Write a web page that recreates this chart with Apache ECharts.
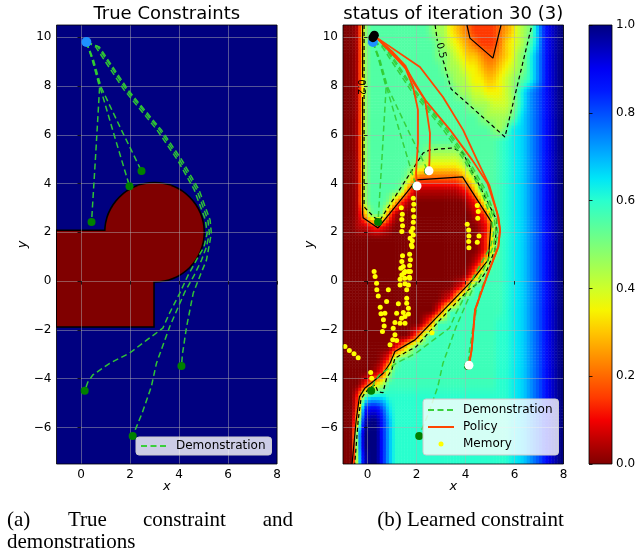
<!DOCTYPE html>
<html><head><meta charset="utf-8">
<script src="https://cdn.jsdelivr.net/npm/echarts@6/dist/echarts.min.js"></script>
<style>html,body{margin:0;padding:0;background:#fff;}#c{width:640px;height:553px;}</style>
</head><body><div id="c"></div>
<script>
// ---------------- data ----------------
const xTicks = [0, 2, 4, 6, 8];
const yTicks = [-6, -4, -2, 0, 2, 4, 6, 8, 10];
const cbTicks = [0, 0.2, 0.4, 0.6, 0.8, 1.0];

// true constraint (left panel): rectangle [x0,y0,x1,y1] and circle [cx,cy,r]
const trueRect = [-1, -1.85, 2.95, 2.05];
const trueCircle = [3.0, 2.0, 2.0];

// demonstrations
const demo1 = [[0.22,9.8],[0.45,9.1],[0.76,7.95],[0.6,5.2],[0.43,2.42]];
const demo2 = [[0.22,9.8],[0.47,9.1],[0.78,7.95],[1.35,6.0],[1.98,3.89]];
const demo3 = [[0.22,9.8],[0.5,9.1],[0.82,7.95],[1.6,6.3],[2.47,4.51]];
const demo4 = [[0.22,9.8],[0.6,9.6],[1.75,7.85],[3.1,6.2],[3.95,4.95],[4.62,3.75],[5.08,2.5],[5.15,1.96],[5.02,1.4],[4.71,0.86],[4.35,0.2],[4.03,-0.5],[3.62,-1.3],[3.34,-1.93],[2.68,-2.42],[1.99,-2.95],[1.17,-3.37],[0.48,-3.85],[0.28,-4.14],[0.15,-4.5]];
const demo5 = [[0.22,9.8],[0.68,9.62],[1.86,7.83],[3.21,6.19],[4.03,4.96],[4.73,3.73],[5.18,2.5],[5.24,1.96],[5.12,1.4],[4.92,0.86],[4.6,0.2],[4.24,-0.44],[3.62,-1.87],[3.08,-3.37],[2.87,-4.33],[2.5,-5.4],[2.11,-6.35]];
const demo6 = [[0.22,9.8],[0.75,9.6],[1.95,7.8],[3.3,6.17],[4.12,4.96],[4.82,3.73],[5.27,2.5],[5.32,1.96],[5.22,1.4],[5.12,0.86],[4.85,0.2],[4.58,-0.5],[4.31,-1.87],[4.14,-3.0],[4.1,-3.48]];
const demoStart = [[0.22,9.8]];
const demoEnds = [[0.43,2.42],[1.98,3.89],[2.47,4.51],[0.15,-4.5],[2.11,-6.35],[4.1,-3.48]];

// policy roll-outs
const policy1 = [[0.28,10.0],[0.39,9.96],[1.0,9.4],[1.53,8.78],[1.86,7.96],[2.06,7.02],[2.06,5.66],[1.98,4.43],[2.02,3.9]];
const policy2 = [[0.28,10.0],[0.39,9.96],[1.0,9.42],[1.55,8.82],[1.9,8.1],[2.35,7.43],[2.55,6.07],[2.53,4.97],[2.51,4.52]];
const policy3 = [[0.28,10.0],[0.39,9.96],[1.61,8.66],[2.35,7.43],[3.37,6.2],[4.27,4.97],[4.9,4.0],[5.29,2.8],[5.41,2.1],[5.34,1.41],[4.87,0.18],[4.39,-1.18],[4.25,-2.82],[4.14,-3.45]];
const policy4 = [[0.28,10.0],[0.51,9.89],[2.14,8.78],[3.08,7.55],[3.9,6.2],[4.47,4.97],[4.98,3.9],[5.35,2.6],[5.41,2.1],[5.34,1.41],[4.87,0.18],[4.39,-1.18],[4.25,-2.82],[4.14,-3.45]];
const policyStart = [[0.22,9.98],[0.28,10.08]];
const policyEnds = [[2.02,3.9],[2.51,4.52],[4.14,-3.45]];

// memory
const memory = [
 [1.38,3.01],[1.42,2.74],[1.40,2.52],[1.43,2.27],[1.40,2.03],
 [1.87,3.40],[1.89,3.15],[1.87,2.91],[1.89,2.64],[1.87,2.41],[1.85,2.17],[1.87,1.89],[1.83,1.65],[1.82,1.41],
 [1.78,2.03],[1.74,1.76],[1.79,1.48],[1.72,1.10],[1.75,0.87],[1.72,0.64],[1.75,0.39],[1.72,0.12],
 [1.43,1.04],[1.40,0.80],[1.46,0.60],[1.36,0.53],[1.49,0.33],[1.40,0.25],[1.52,0.12],
 [1.53,0.39],[1.67,0.39],[1.33,0.08],[1.71,0.16],[1.33,-0.16],[1.53,-0.11],[1.67,-0.16],[1.60,-0.36],
 [4.48,3.10],[4.52,2.85],[4.50,2.58],[4.07,2.33],[4.13,2.09],[4.14,1.85],[4.13,1.62],[4.14,1.37],[4.55,1.85],[4.48,1.59],
 [0.27,0.39],[0.31,0.19],[0.37,-0.09],[0.38,-0.36],[0.44,-0.61],[0.52,-1.07],[0.55,-1.34],[0.65,-1.59],[0.68,-1.84],[0.61,-2.07],
 [0.71,-1.32],[0.85,-0.36],[0.78,-0.84],
 [1.26,-0.93],[1.60,-0.91],[1.19,-1.32],[1.46,-1.29],[1.67,-1.11],[1.12,-1.70],[1.39,-1.52],[1.53,-1.45],[1.05,-1.93],[1.33,-1.73],[1.53,-1.73],[1.12,-2.20],[1.03,-2.41],[1.19,-2.44],[0.92,-2.61],[1.67,-1.35],[1.60,-0.70],
 [-0.92,-2.68],[-0.74,-2.85],[-0.55,-2.98],[-0.38,-3.14],
 [0.13,-3.75],[0.17,-3.98],
 [2.63,-2.12]
];

// learned constraint contours
const contour02a = [[4.06,10.5],[4.18,9.96],[5.12,9.14],[5.45,10.5]];
const contour02b = [[-0.2,10.5],[-0.2,8.35]];
const contour02c = [[-0.2,7.55],[-0.2,2.75],[-0.18,2.6],[0.43,2.18],[2.02,4.15],[3.88,4.27],[5.05,2.44],[4.93,0.87],[4.2,-0.05],[1.94,-2.41],[1.12,-2.89],[0.92,-3.37],[0.65,-3.77],[0.22,-4.13],[-0.1,-4.38],[-0.33,-4.75],[-0.46,-5.69],[-0.63,-7.5]];
const contour05a = [[2.76,10.5],[2.85,9.85]];
const contour05b = [[3.08,9.05],[3.12,8.94],[3.41,7.88],[5.61,5.91],[6.71,10.5]];
const contour05c = [[-0.14,10.5],[-0.14,3.1],[-0.1,3.0],[0.3,2.59],[0.51,2.5],[2.27,5.25],[2.55,5.38],[3.49,5.46],[3.9,5.25],[5.27,2.51],[5.2,1.28],[4.88,0.46],[4.52,-0.09],[4.12,-0.36],[2.96,-1.59],[2.0,-2.68],[1.12,-3.16],[0.99,-3.64],[0.78,-3.98],[0.63,-4.58],[0.43,-4.54],[0.31,-4.25],[0.1,-4.38],[-0.1,-4.58],[-0.27,-4.85],[-0.38,-5.7],[-0.52,-7.5]];
const contourLabelText = ['0.2', '0.5'];
const contourLabelAt = [[-0.3,7.95],[3.0,9.45]];

// learned constraint value field: cell centres and one code string per row
// code: '0'..'9','A'..'K' = 0.00..1.00 in steps of 0.05; lower-case letter = +0.025
const fieldCols = [-0.875,-0.625,-0.375,-0.125,0.125,0.375,0.625,0.875,1.125,1.375,1.625,1.875,2.125,2.375,2.625,2.875,3.125,3.375,3.625,3.875,4.125,4.375,4.625,4.875,5.125,5.375,5.625,5.875,6.125,6.375,6.625,6.875,7.125,7.375,7.625,7.875];
const fieldRows = [10.25,9.75,9.25,8.75,8.25,7.75,7.25,6.75,6.25,5.75,5.25,4.75,4.25,3.75,3.25,2.75,2.25,1.75,1.25,0.75,0.25,-0.25,-0.75,-1.25,-1.75,-2.25,-2.75,-3.25,-3.75,-4.25,-4.75,-5.25,-5.75,-6.25,-6.75,-7.25];
const fieldCode = [
 "0019" + "BBBBBBBBBB" + "A997654333345689ADGIJK",
 "0019" + "BBBBBBBBBB" + "BA98765433346789BDGIJK",
 "0019" + "BBBBBBBBBB" + "BAA987665445679ACEGIJK",
 "0019" + "BBBBBBBBBB" + "BBA998776556789ACEGIJK",
 "0019" + "BBBBBBBBBB" + "BBBA9987766789ABCEGIJK",
 "0019" + "BBBBBBBBBB" + "BBBBA998877789" + "BDefgIJK",
 "0019" + "BBBBBBBBBB" + "BBBBBBA9998889" + "BDefgIJK",
 "0019" + "BBBBBBBBBB" + "BBBBBBBBA9999" + "ACdefgIJK",
 "0019" + "BBBBBBBBBB" + "BBBBBBBBBB" + "A9AcDdefgIJK",
 "0019" + "BBBBBBBBBB" + "BBBBBBBBBB" + "BbCcDdefgIJK",
 "0019" + "BBBBBBBBB" + "A" + "99999" + "A" + "BBBB" + "BbCcDdefgIJK",
 "0019" + "BBBBBBB" + "A98" + "77777" + "8A" + "BBB" + "BbCcDdefgIJK",
 "0019" + "BBBBBB" + "A64" + "444444" + "579" + "BB" + "BbCcDdefgIJK",
 "0019" + "BBBBB" + "A52" + "1111111" + "236A" + "B" + "BbCcDdefgIJK",
 "0019" + "BBB" + "A631" + "000000000" + "125A" + "BbCcDdefgIJK",
 "0015" + "ABA41" + "000000000000" + "124A" + "bCcDdefgIJK",
 "0011" + "2321" + "00000000000000" + "128" + "bCcDdefgIJK",
 "0000000000" + "0000000000" + "00" + "138" + "bCcDdefgIJK",
 "0000000000" + "0000000000" + "00" + "138" + "bCcDdefgIJK",
 "0000000000" + "0000000000" + "0" + "138" + "bbCcDdefgIJK",
 "0000000000" + "0000000000" + "148b" + "bbCcDdefgIJK",
 "0000000000" + "00000000" + "127b" + "bb" + "bbCcDdefgIJK",
 "0000000000" + "000000" + "126b" + "bbbb" + "bbCcDdefgIJK",
 "0000000000" + "00000" + "26b" + "bbbbbb" + "bbCcDdefgIJK",
 "0000000000" + "000" + "25b" + "bbbbbbbb" + "bCCcDdefgIJK",
 "0000000000" + "0" + "25A" + "bbbbbbbbbb" + "bCCcDdefgIJK",
 "00000000" + "247A" + "bbbbbbbbbbbb" + "bCCcDdefgIJK",
 "000000" + "13A" + "bbbbbbbbbbbbbbb" + "bCCcDdefgIJK",
 "00000" + "139" + "bbbbbbbbbbbbbbbb" + "bCCcDdefgIJK",
 "000" + "2579" + "bbbbbbbbbbbbbbbbb" + "bCCcDdefgIJK",
 "00" + "3BDDDC" + "CCCCCCCCCCCCCCCC" + "CCCcDdefgIJK",
 "00" + "4HIIGD" + "CCCCCCCCCCCCCCCC" + "CCCcDdefgIJK",
 "00" + "8JKKHE" + "CCCCCCCCCCCCCCCC" + "CCCcDdefgIJK",
 "00" + "DKKKHE" + "CCCCCCCCCCCCCCCC" + "CCCcDdefgIJK",
 "00" + "DKKKHE" + "CCCCCCCCCCCCCCCC" + "CCCcDdefgIJK",
 "00" + "CJKKHE" + "CCCCCCCCCCCCCCCC" + "CCCcDdefgIJK"
];

// ---------------- build ----------------
const LEVELS = "0123456789ABCDEFGHIJK";
function levelOf(ch) {
  const up = ch.toUpperCase();
  let v = Math.max(0, LEVELS.indexOf(up)) * 0.05;
  if (ch !== up) v += 0.025;
  return Math.min(1, v);
}
const NC = fieldCols.length, NR = fieldRows.length;
const V = fieldCode.map(row => { const out = []; for (let c = 0; c < NC; c++) out.push(levelOf(row[c] || '0')); return out; });
const heatData = [];
for (let r = 0; r < NR; r++) for (let c = 0; c < NC; c++) heatData.push([fieldCols[c], fieldRows[r], V[r][c]]);
const HX = (fieldCols[1] - fieldCols[0]) / 2, HY = (fieldRows[0] - fieldRows[1]) / 2;

// display shading (like imshow bilinear): colour of a point inside the read grid
function fieldAt(x, y) {
  let fc = (x - fieldCols[0]) / (2 * HX), fr = (fieldRows[0] - y) / (2 * HY);
  fc = Math.max(0, Math.min(NC - 1, fc)); fr = Math.max(0, Math.min(NR - 1, fr));
  const c0 = Math.floor(fc), r0 = Math.floor(fr);
  const c1 = Math.min(NC - 1, c0 + 1), r1 = Math.min(NR - 1, r0 + 1);
  const tc = fc - c0, tr = fr - r0;
  const top = V[r0][c0] * (1 - tc) + V[r0][c1] * tc;
  const bot = V[r1][c0] * (1 - tc) + V[r1][c1] * tc;
  return top * (1 - tr) + bot * tr;
}

const JET_R = ['#800000','#b90000','#f40000','#ff3900','#ff6800','#ff9700','#ffc600','#f7f500','#ceff29','#a4ff52','#7bff7b','#52ffa4','#29ffce','#00e6f7','#00b3ff','#0080ff','#004dff','#001aff','#0000f4','#0000b9','#000080'];
function jetColor(v) {
  if (echarts.color && echarts.color.lerp) return echarts.color.lerp(Math.max(0, Math.min(1, v)), JET_R);
  return JET_R[Math.round(v * (JET_R.length - 1))];
}
const FONT = 'DejaVu Sans';
const GRIDC = 'rgba(176,176,176,0.6)';
const DEMO_C = '#32CD32', POL_C = '#FF4500';
const minus = v => (v < 0 ? '\u2212' + Math.abs(v) : String(v));

function plotX(gi) {
  return { gridIndex: gi, type: 'value', min: -1, max: 8, z: 2,
    axisLine: { show: false },
    axisTick: { show: true, customValues: xTicks, length: 3.5, lineStyle: { color: '#000', width: 0.8 } },
    axisLabel: { customValues: xTicks, margin: 5, fontSize: 12, color: '#000', fontFamily: FONT },
    splitLine: { show: true, lineStyle: { color: GRIDC, width: 0.8 } },
    name: 'x', nameLocation: 'middle', nameGap: 16, nameMoveOverlap: false,
    nameTextStyle: { fontStyle: 'italic', fontSize: 13, color: '#000', fontFamily: FONT } };
}
function plotY(gi) {
  return { gridIndex: gi, type: 'value', min: -7.5, max: 10.5, z: 2,
    axisLine: { show: false },
    axisTick: { show: true, customValues: yTicks, length: 3.5, lineStyle: { color: '#000', width: 0.8 } },
    axisLabel: { customValues: yTicks, margin: 5, fontSize: 12, color: '#000', fontFamily: FONT, formatter: minus },
    splitLine: { show: true, lineStyle: { color: GRIDC, width: 0.8 } },
    name: 'y', nameLocation: 'middle', nameGap: 27, nameMoveOverlap: false,
    nameTextStyle: { fontStyle: 'italic', fontSize: 13, color: '#000', fontFamily: FONT } };
}

const series = [];
function addLine(name, data, gi, color, width, dash, opacity) {
  series.push({ type: 'line', name, xAxisIndex: gi, yAxisIndex: gi, data, z: 3,
    symbol: 'none', showSymbol: false, smooth: false, silent: true,
    lineStyle: { color, width, type: dash || 'solid', opacity: opacity == null ? 1 : opacity },
    itemStyle: { color } });
}
function addDots(name, data, gi, color, size, z) {
  series.push({ type: 'scatter', name, xAxisIndex: gi, yAxisIndex: gi, data, z: z || 4,
    symbol: 'circle', symbolSize: size, silent: true, itemStyle: { color, opacity: 1 } });
}

// left panel: true constraint
series.push({ type: 'custom', name: 'trueConstraint', xAxisIndex: 0, yAxisIndex: 0, z: 1, silent: true, clip: true,
  data: [[trueCircle[0], trueCircle[1]]],
  renderItem: (params, api) => {
    const cs = params.coordSys;
    const a = api.coord([trueRect[0], trueRect[3]]), b = api.coord([trueRect[2], trueRect[1]]);
    const c = api.coord([trueCircle[0], trueCircle[1]]);
    const r = api.size([trueCircle[2], 0])[0];
    const rect = { x: a[0], y: a[1], width: b[0] - a[0], height: b[1] - a[1] };
    return { type: 'group', children: [
      { type: 'rect', shape: { x: cs.x, y: cs.y, width: cs.width, height: cs.height }, style: { fill: '#000080' } },
      { type: 'rect', shape: rect, style: { fill: '#000', stroke: '#000', lineWidth: 3 } },
      { type: 'circle', shape: { cx: c[0], cy: c[1], r }, style: { fill: '#000', stroke: '#000', lineWidth: 3 } },
      { type: 'rect', shape: rect, style: { fill: '#800000' } },
      { type: 'circle', shape: { cx: c[0], cy: c[1], r }, style: { fill: '#800000' } }
    ] };
  } });
[demo1, demo2, demo3, demo4, demo5, demo6].forEach(d => addLine('Demonstration', d, 0, DEMO_C, 1.5, [6, 3.5], 0.95));
addDots('demoEndL', demoEnds, 0, '#008000', 8);
addDots('demoStartL', demoStart, 0, '#1E90FF', 10);

// right panel: learned constraint field
const SUBX = 2, SUBY = 4;
series.push({ type: 'custom', name: 'field', xAxisIndex: 1, yAxisIndex: 1, z: 1, silent: true, clip: true,
  data: heatData, encode: { x: 0, y: 1 },
  renderItem: (params, api) => {
    const x = api.value(0), y = api.value(1);
    const children = [];
    const sw = 2 * HX / SUBX, sh = 2 * HY / SUBY;
    for (let i = 0; i < SUBX; i++) for (let j = 0; j < SUBY; j++) {
      const x0 = x - HX + i * sw, y0 = y + HY - j * sh;
      const a = api.coord([x0, y0]), b = api.coord([x0 + sw, y0 - sh]);
      children.push({ type: 'rect', shape: { x: a[0], y: a[1], width: b[0] - a[0] + 0.5, height: b[1] - a[1] + 0.5 },
        style: { fill: jetColor(fieldAt(x0 + sw / 2, y0 - sh / 2)) } });
    }
    return { type: 'group', children };
  } });
[contour02a, contour02b, contour02c].forEach(d => addLine('c02', d, 1, '#000', 1.2, 'solid', 1));
[contour05a, contour05b, contour05c].forEach(d => addLine('c05', d, 1, '#000', 1.2, [4, 3], 1));
series.push({ type: 'custom', name: 'contourLabels', xAxisIndex: 1, yAxisIndex: 1, z: 3, silent: true,
  data: contourLabelAt,
  renderItem: (params, api) => {
    const p = api.coord([api.value(0), api.value(1)]);
    const ang = params.dataIndex === 0 ? -90 : -76;
    return { type: 'text', x: p[0], y: p[1], rotation: ang * Math.PI / 180,
      style: { text: contourLabelText[params.dataIndex], align: 'center', verticalAlign: 'middle', font: '10px "DejaVu Sans"', fill: '#000' } };
  } });
[demo1, demo2, demo3, demo4, demo5, demo6].forEach(d => addLine('Demonstration', d, 1, DEMO_C, 1.5, [6, 3.5], 0.9));
[policy1, policy2, policy3, policy4].forEach(d => addLine('Policy', d, 1, POL_C, 1.8, 'solid', 1));
addDots('Memory', memory, 1, '#FFFF00', 5);
addDots('demoEndR', demoEnds, 1, '#008000', 8);
addDots('policyEnd', policyEnds, 1, '#FFFFFF', 9);
addDots('demoStartR', demoStart, 1, '#1E90FF', 10);
addDots('policyStart', policyStart, 1, '#000000', 9);

// colour bar
series.push({ type: 'custom', name: 'colorbar', xAxisIndex: 2, yAxisIndex: 2, z: 1, silent: true,
  data: [[0.5, 0.5]],
  renderItem: (params, api) => {
    const a = api.coord([0, cbTicks[cbTicks.length - 1]]), b = api.coord([1, cbTicks[0]]);
    const grad = new echarts.graphic.LinearGradient(0, 1, 0, 0, JET_R.map((c, i) => ({ offset: i / (JET_R.length - 1), color: c })));
    return { type: 'rect', shape: { x: a[0], y: a[1], width: b[0] - a[0], height: b[1] - a[1] }, style: { fill: grad } };
  } });

const gridBase = { top: 25, height: 439, show: true, z: 5, borderColor: '#000', borderWidth: 0.8, backgroundColor: 'transparent', containLabel: false, outerBoundsMode: 'none' };
const legendBase = { orient: 'vertical', backgroundColor: 'rgba(255,255,255,0.8)', borderColor: '#cccccc', borderWidth: 1, borderRadius: 3,
  itemWidth: 26, itemHeight: 5, itemGap: 5, z: 6, selectedMode: false,
  textStyle: { fontSize: 12, color: '#000', fontFamily: FONT, padding: [0, 0, 0, 4] } };
const noSym = { opacity: 0 };

const option = {
  animation: false,
  textStyle: { fontFamily: FONT },
  grid: [
    Object.assign({}, gridBase, { left: 56.5, width: 220.5 }),
    Object.assign({}, gridBase, { left: 343, width: 220.5 }),
    Object.assign({}, gridBase, { left: 589, width: 23 })
  ],
  xAxis: [plotX(0), plotX(1), { gridIndex: 2, type: 'value', min: 0, max: 1, show: false }],
  yAxis: [plotY(0), plotY(1), { gridIndex: 2, type: 'value', min: 0, max: 1, interval: 0.2, position: 'right', z: 2,
    axisLine: { show: false }, splitLine: { show: false },
    axisTick: { show: true, length: 3.5, lineStyle: { color: '#000', width: 0.8 } },
    axisLabel: { margin: 4, fontSize: 12, color: '#000', fontFamily: FONT, formatter: v => v.toFixed(1) } }],
  legend: [
    Object.assign({}, legendBase, { left: 136, top: 437, padding: [3, 6, 3, 4], data: [{ name: 'Demonstration', itemStyle: noSym }] }),
    Object.assign({}, legendBase, { left: 423, top: 399, padding: [5, 6, 5, 4], data: [
      { name: 'Demonstration', itemStyle: noSym }, { name: 'Policy', itemStyle: noSym }, { name: 'Memory' }] })
  ],
  graphic: [
    { type: 'text', x: 166.75, y: 14, style: { text: 'True Constraints', font: '18px "DejaVu Sans"', fill: '#000', align: 'center', verticalAlign: 'middle' } },
    { type: 'text', x: 453.25, y: 14, style: { text: 'status of iteration 30 (3)', font: '18px "DejaVu Sans"', fill: '#000', align: 'center', verticalAlign: 'middle' } },
    { type: 'text', x: 7, y: 520, style: { text: '(a)', font: '21px "Liberation Serif"', fill: '#000', align: 'left', verticalAlign: 'middle' } },
    { type: 'text', x: 68, y: 520, style: { text: 'True', font: '21px "Liberation Serif"', fill: '#000', align: 'left', verticalAlign: 'middle' } },
    { type: 'text', x: 143, y: 520, style: { text: 'constraint', font: '21px "Liberation Serif"', fill: '#000', align: 'left', verticalAlign: 'middle' } },
    { type: 'text', x: 293, y: 520, style: { text: 'and', font: '21px "Liberation Serif"', fill: '#000', align: 'right', verticalAlign: 'middle' } },
    { type: 'text', x: 7, y: 542, style: { text: 'demonstrations', font: '21px "Liberation Serif"', fill: '#000', align: 'left', verticalAlign: 'middle' } },
    { type: 'text', x: 470.5, y: 520, style: { text: '(b) Learned constraint', font: '21px "Liberation Serif"', fill: '#000', align: 'center', verticalAlign: 'middle' } }
  ],
  series
};
const chart = echarts.init(document.getElementById('c'), null, { renderer: 'canvas' });
chart.setOption(option);
</script></body></html>
